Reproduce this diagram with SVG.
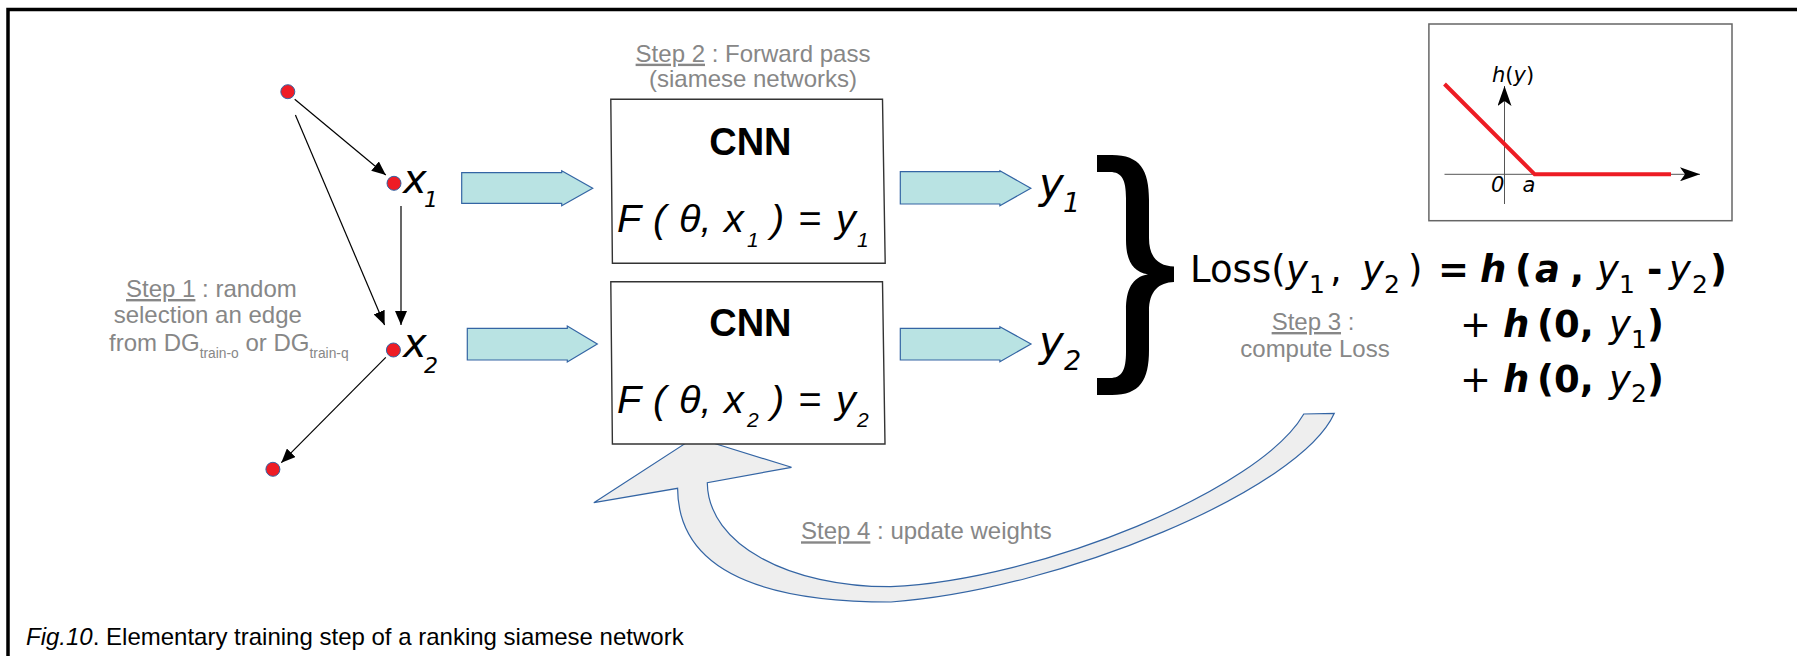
<svg xmlns="http://www.w3.org/2000/svg" width="1797" height="656" viewBox="0 0 1797 656">
<defs>
<style>
.lib{font-family:"Liberation Sans",Arial,sans-serif}
.step{font-family:"Liberation Sans",Arial,sans-serif;font-size:24px;fill:#878787}
.u{text-decoration:underline}
.dv{font-family:"DejaVu Sans",sans-serif}
.it{font-style:italic}
.b{font-weight:bold}
.dot{fill:#ee1c25;stroke:#3465a4;stroke-width:1}
.blk{fill:#b9e3e3;stroke:#3465a4;stroke-width:1.2}
.edge{stroke:#000;stroke-width:1.2;fill:none;marker-end:url(#ah)}
.box{fill:#fff;stroke:#333;stroke-width:1.4}
.fm{font-size:37px;fill:#000}
.sub{font-size:25px;font-style:normal;font-weight:normal}
</style>
<marker id="ah" viewBox="0 0 14 12" refX="14" refY="6" markerWidth="14" markerHeight="12" orient="auto" markerUnits="userSpaceOnUse"><path d="M0,0 L14,6 L0,12 z" fill="#000"/></marker>
<marker id="ax" viewBox="0 0 20 14" refX="20" refY="7" markerWidth="20" markerHeight="14" orient="auto" markerUnits="userSpaceOnUse"><path d="M0,0 L20,7 L0,14 L5,7 z" fill="#000"/></marker>
</defs>
<rect width="1797" height="656" fill="#fff"/>
<rect x="8" y="9.5" width="1900" height="800" fill="none" stroke="#000" stroke-width="3.5"/>

<g id="connectors">
<line class="edge" x1="294.7" y1="99.3" x2="385.8" y2="175"/>
<line class="edge" x1="295.4" y1="115" x2="384.6" y2="325"/>
<line class="edge" x1="401" y1="206" x2="401" y2="325"/>
<line class="edge" x1="385.8" y1="357.3" x2="281.3" y2="462.7"/>
<polygon class="blk" points="461.7,172.7 561.7,172.7 561.7,170.7 592.7,188.3 561.7,205.7 561.7,203.3 461.7,203.3"/>
<polygon class="blk" points="467.3,328.3 567.3,328.3 567.3,326 597.3,344 567.3,362 567.3,360 467.3,360"/>
<polygon class="blk" points="900.3,171.7 999.9,171.7 999.9,170.7 1030.8,188.3 999.9,205.7 999.9,204 900.3,204"/>
<polygon class="blk" points="900.3,328.3 999.9,328.3 999.9,326.7 1031,344 999.9,361.7 999.9,360 900.3,360"/>
<path id="update-arrow" d="M593.8,502.7 L694.7,437.3 L791.5,467.3 L707.3,482.7 C708,545 790,587 890.8,586.7 C1040,580 1260,490 1303.8,414 L1334.3,413.3 C1300,490 1060,590 891,602 C770,602 678,575 677.6,488.3 Z" fill="#eeeeee" stroke="#3465a4" stroke-width="1.2"/>
</g>

<g id="node-top"><circle class="dot" cx="287.8" cy="91.7" r="7"/></g>
<g id="node-x1"><circle class="dot" cx="394" cy="183.3" r="7"/>
<text class="dv it" font-size="40" x="403" y="193">x<tspan font-size="22" x="424" y="207">1</tspan></text></g>
<g id="node-x2"><circle class="dot" cx="393.4" cy="350" r="7"/>
<text class="dv it" font-size="40" x="403" y="357">x<tspan font-size="22" x="424" y="373">2</tspan></text></g>
<g id="node-bottom"><circle class="dot" cx="272.9" cy="469.3" r="7"/></g>

<g id="step1">
<text class="step" x="126" y="297"><tspan class="u">Step 1</tspan> : random</text>
<text class="step" x="113.7" y="323">selection an edge</text>
<text class="step" x="109" y="351">from DG<tspan font-size="13.8" y="358">train-o</tspan><tspan y="351"> or DG</tspan><tspan font-size="13.8" y="358">train-q</tspan></text>
</g>

<g id="step2">
<text class="step" x="753" y="61.7" text-anchor="middle"><tspan class="u">Step 2</tspan> : Forward pass</text>
<text class="step" x="753" y="87" text-anchor="middle">(siamese networks)</text>
</g>

<g id="cnn1">
<polygon class="box" points="610.8,99.3 882.5,99.3 885.2,263.3 612.4,263.3"/>
<text class="lib b" font-size="38" x="750.4" y="155" text-anchor="middle">CNN</text>
<text class="lib it" font-size="39.5" y="231.7"><tspan x="617">F</tspan><tspan x="653">(</tspan><tspan x="679">θ,</tspan><tspan x="724">x</tspan><tspan font-size="21" x="747" y="246.7">1</tspan><tspan x="771" y="231.7">)</tspan><tspan x="798">=</tspan><tspan x="836">y</tspan><tspan font-size="21" x="857" y="246.7">1</tspan></text>
</g>
<g id="cnn2">
<polygon class="box" points="610.8,281.7 882.5,281.7 885,444 612.4,444"/>
<text class="lib b" font-size="38" x="750.4" y="336" text-anchor="middle">CNN</text>
<text class="lib it" font-size="39.5" y="413.3"><tspan x="617">F</tspan><tspan x="653">(</tspan><tspan x="679">θ,</tspan><tspan x="724">x</tspan><tspan font-size="21" x="747" y="426.7">2</tspan><tspan x="771" y="413.3">)</tspan><tspan x="798">=</tspan><tspan x="836">y</tspan><tspan font-size="21" x="857" y="426.7">2</tspan></text>
</g>

<g id="out-y1"><text class="dv it" font-size="42" x="1039" y="198">y<tspan font-size="27" x="1063" y="211.7">1</tspan></text></g>
<g id="out-y2"><text class="dv it" font-size="42" x="1039" y="356">y<tspan font-size="27" x="1064" y="370">2</tspan></text></g>

<g id="brace">
<path d="M1097,155 L1112,155 C1140,155 1149,170 1149,200 L1149,238 C1149,258 1159,266 1174,266.5 L1174,282 C1159,282.5 1149,291 1149,311 L1149,350 C1149,380 1140,395 1112,395 L1097,395 L1097,378 L1110,378 C1122,378 1126,370 1126,352 L1126,310 C1126,290 1132,277 1148,274.3 C1132,272 1126,259 1126,240 L1126,198 C1126,180 1122,172 1110,172 L1097,172 Z" fill="#000"/>
</g>

<g id="loss">
<text class="dv fm" y="282"><tspan x="1190">Loss(</tspan><tspan class="it" x="1286">y</tspan><tspan class="sub" x="1309" y="293">1</tspan><tspan x="1330" y="282">,</tspan><tspan class="it" x="1362">y</tspan><tspan class="sub" x="1384" y="293">2</tspan><tspan x="1408" y="282">)</tspan><tspan class="b" x="1438">=</tspan><tspan class="b it" x="1480">h</tspan><tspan class="b" x="1515">(</tspan><tspan class="b it" x="1535">a</tspan><tspan class="b" x="1570">,</tspan><tspan class="it" x="1597">y</tspan><tspan class="sub" x="1619" y="293">1</tspan><tspan class="b" x="1647" y="282">-</tspan><tspan class="it" x="1669">y</tspan><tspan class="sub" x="1692" y="293">2</tspan><tspan class="b" x="1710" y="282">)</tspan></text>
<text class="dv fm" y="337"><tspan x="1460">+</tspan><tspan class="b it" x="1503">h</tspan><tspan class="b" x="1537">(</tspan><tspan class="b" x="1554">0,</tspan><tspan class="it" x="1609">y</tspan><tspan class="sub" x="1631" y="348">1</tspan><tspan class="b" x="1647" y="337">)</tspan></text>
<text class="dv fm" y="392"><tspan x="1460">+</tspan><tspan class="b it" x="1503">h</tspan><tspan class="b" x="1537">(</tspan><tspan class="b" x="1554">0,</tspan><tspan class="it" x="1609">y</tspan><tspan class="sub" x="1631" y="402">2</tspan><tspan class="b" x="1647" y="392">)</tspan></text>
</g>

<g id="step3">
<text class="step" x="1313" y="330" text-anchor="middle"><tspan class="u">Step 3</tspan> :</text>
<text class="step" x="1315" y="356.7" text-anchor="middle">compute Loss</text>
</g>

<g id="hinge-inset">
<rect x="1428.9" y="24" width="303.1" height="196.7" fill="#fff" stroke="#666" stroke-width="1.5"/>
<line x1="1444.5" y1="174.3" x2="1700" y2="174.3" stroke="#555" stroke-width="1" marker-end="url(#ax)"/>
<line x1="1504.5" y1="204" x2="1504.5" y2="86" stroke="#555" stroke-width="1" marker-end="url(#ax)"/>
<polyline points="1444.5,84 1534.7,174.3 1671,174.3" fill="none" stroke="#ed1c24" stroke-width="4"/>
<text class="dv" font-size="21" x="1492" y="82"><tspan class="it">h</tspan>(<tspan class="it">y</tspan>)</text>
<text class="dv it" font-size="21" x="1491" y="191.7">0</text>
<text class="dv it" font-size="21" x="1522.5" y="191.7">a</text>
</g>

<g id="step4">
<text class="step" x="801" y="539.3"><tspan class="u">Step 4</tspan> : update weights</text>
</g>

<text class="lib" font-size="24" x="26" y="645"><tspan class="it">Fig.10</tspan>. Elementary training step of a ranking siamese network</text>
</svg>
